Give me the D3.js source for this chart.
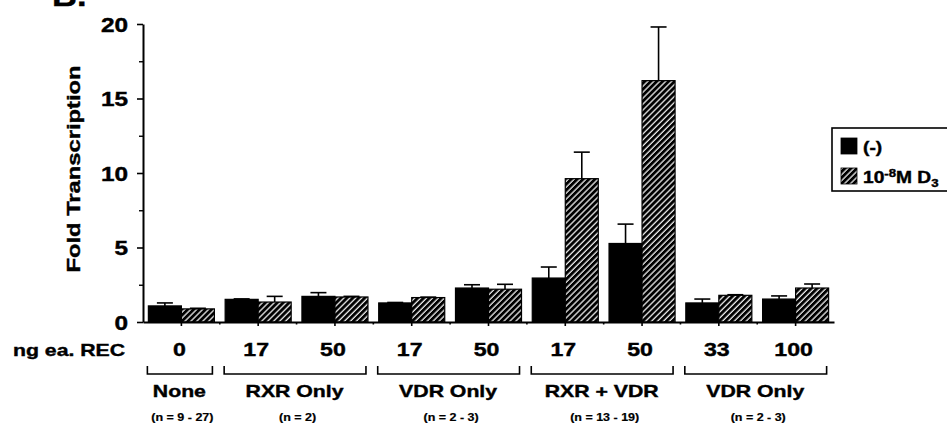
<!DOCTYPE html>
<html>
<head>
<meta charset="utf-8">
<script src="https://cdn.jsdelivr.net/npm/d3@7"></script>
<style>
  body { margin: 0; background: #fff; }
  svg { display: block; }
  text { font-family: "Liberation Sans", Arial, Helvetica, sans-serif; font-weight: bold; fill: #000; stroke: #000; stroke-width: 0.4px; }
</style>
</head>
<body>
<script>
// doses (ng of each receptor) for each bar pair
var categories = ["0", "17", "50", "17", "50", "17", "50", "33", "100"];
var series = ["(-)", "10-8M D3"];

// fold transcription, vehicle (-) and 10^-8 M D3
var vehicleValues = [1.08, 1.52, 1.72, 1.28, 2.28, 2.95, 5.27, 1.28, 1.54];
var vehicleErrors = [0.2, 0.03, 0.25, 0.03, 0.22, 0.74, 1.3, 0.26, 0.21];
var d3Values = [0.88, 1.34, 1.68, 1.64, 2.2, 9.62, 16.2, 1.79, 2.28];
var d3Errors = [0.04, 0.38, 0.04, 0.03, 0.33, 1.78, 3.6, 0.04, 0.27];

// receptor groups under the doses
var groupNames = ["None", "RXR Only", "VDR Only", "RXR + VDR", "VDR Only"];
var groupCounts = ["(n = 9 - 27)", "(n = 2)", "(n = 2 - 3)", "(n = 13 - 19)", "(n = 2 - 3)"];
var groupFirst = [0, 1, 3, 5, 7];
var groupLast = [0, 2, 4, 6, 8];

var yTicks = [0, 5, 10, 15, 20];
var yMinorTicks = [2.5, 7.5, 12.5, 17.5];

var W = 947, H = 424;
var stretch = 1.25; // the printed font is wider than Arial

var svg = d3.select("body").append("svg")
  .attr("width", W)
  .attr("height", H);

var defs = svg.append("defs");
var hatch = defs.append("pattern")
  .attr("id", "hatch")
  .attr("patternUnits", "userSpaceOnUse")
  .attr("width", 4.2)
  .attr("height", 4.2)
  .attr("patternTransform", "rotate(45)");
hatch.append("rect").attr("width", 4.2).attr("height", 4.2).attr("fill", "#000");
hatch.append("line")
  .attr("x1", 1).attr("y1", 0).attr("x2", 1).attr("y2", 4.2)
  .attr("stroke", "#fff").attr("stroke-width", 1.2);

var x = d3.scaleBand()
  .domain(d3.range(categories.length))
  .range([143, 834])
  .paddingInner(0.14)
  .paddingOuter(0.07);

var xInner = d3.scaleBand()
  .domain(series)
  .range([0, x.bandwidth()]);

var y = d3.scaleLinear()
  .domain([0, 20])
  .range([322, 24]);

var fills = ["#000", "url(#hatch)"];

// bars
var rows = categories.map(function(c, i) {
  return [
    { i: i, s: series[0], v: vehicleValues[i], e: vehicleErrors[i] },
    { i: i, s: series[1], v: d3Values[i], e: d3Errors[i] }
  ];
});

var pair = svg.append("g").selectAll("g")
  .data(rows)
  .enter()
  .append("g")
  .attr("transform", function(d, i) { return "translate(" + x(i) + ",0)"; });

pair.selectAll("rect")
  .data(function(d) { return d; })
  .enter()
  .append("rect")
  .attr("x", function(d) { return xInner(d.s); })
  .attr("y", function(d) { return y(d.v); })
  .attr("width", xInner.bandwidth())
  .attr("height", function(d) { return y(0) - y(d.v); })
  .attr("fill", function(d, j) { return fills[j]; })
  .attr("stroke", "#000")
  .attr("stroke-width", 1.2);

// error bars (upper only)
var err = pair.selectAll("g.err")
  .data(function(d) { return d; })
  .enter()
  .append("g")
  .attr("class", "err");

err.append("line")
  .attr("x1", function(d) { return xInner(d.s) + xInner.bandwidth() / 2; })
  .attr("x2", function(d) { return xInner(d.s) + xInner.bandwidth() / 2; })
  .attr("y1", function(d) { return y(d.v); })
  .attr("y2", function(d) { return y(d.v + d.e); })
  .attr("stroke", "#000")
  .attr("stroke-width", 1.6);

err.append("line")
  .attr("x1", function(d) { return xInner(d.s) + xInner.bandwidth() / 2 - 8; })
  .attr("x2", function(d) { return xInner(d.s) + xInner.bandwidth() / 2 + 8; })
  .attr("y1", function(d) { return y(d.v + d.e); })
  .attr("y2", function(d) { return y(d.v + d.e); })
  .attr("stroke", "#000")
  .attr("stroke-width", 1.6);

// y axis
var yAxis = svg.append("g")
  .attr("transform", "translate(143,0)")
  .call(d3.axisLeft(y).tickValues(yTicks).tickSize(6).tickSizeOuter(0));
yAxis.select(".domain").attr("stroke-width", 2);
yAxis.selectAll(".tick line").attr("stroke-width", 1.6);
yAxis.selectAll(".tick text")
  .attr("x", null)
  .attr("dy", null)
  .attr("y", 7)
  .attr("font-size", 19.5)
  .attr("font-family", null)
  .attr("transform", "translate(-15,0) scale(" + stretch + ",1)");

var yMinor = svg.append("g")
  .attr("transform", "translate(143,0)")
  .call(d3.axisLeft(y).tickValues(yMinorTicks).tickSize(4).tickFormat(""));
yMinor.select(".domain").remove();
yMinor.selectAll(".tick line").attr("stroke-width", 1.4);

// x axis
var xAxis = svg.append("g")
  .attr("transform", "translate(0," + y(0) + ")")
  .call(d3.axisBottom(x).tickSize(4).tickSizeOuter(0).tickFormat(""));
xAxis.select(".domain").attr("stroke-width", 2);
xAxis.selectAll(".tick line").attr("stroke-width", 1.6);

var gap = x.step() - x.bandwidth();
svg.append("g").selectAll("line")
  .data(categories.slice(0, -1))
  .enter()
  .append("line")
  .attr("x1", function(d, i) { return x(i) + x.bandwidth() + gap / 2; })
  .attr("x2", function(d, i) { return x(i) + x.bandwidth() + gap / 2; })
  .attr("y1", y(0))
  .attr("y2", y(0) + 2.5)
  .attr("stroke", "#000")
  .attr("stroke-width", 1.6);

// dose labels
svg.append("g").selectAll("text")
  .data(categories)
  .enter()
  .append("text")
  .attr("transform", function(d, i) {
    return "translate(" + (x(i) + x.bandwidth() / 2 - 2) + ",356) scale(" + stretch + ",1)";
  })
  .attr("text-anchor", "middle")
  .attr("font-size", 18.5)
  .text(function(d) { return d; });

svg.append("text")
  .attr("transform", "translate(13,356) scale(" + stretch + ",1)")
  .attr("font-size", 17)
  .text("ng ea. REC");

// brackets
svg.append("g").selectAll("path")
  .data(groupNames)
  .enter()
  .append("path")
  .attr("d", function(d, i) {
    var x1 = x(groupFirst[i]) - 1;
    var x2 = x(groupLast[i]) + x.bandwidth() - 2;
    return "M" + x1 + ",366V374H" + x2 + "V366";
  })
  .attr("fill", "none")
  .attr("stroke", "#000")
  .attr("stroke-width", 1.6);

svg.append("g").selectAll("text")
  .data(groupNames)
  .enter()
  .append("text")
  .attr("transform", function(d, i) {
    var cx = (x(groupFirst[i]) + x(groupLast[i]) + x.bandwidth()) / 2 - 2;
    return "translate(" + cx + ",397) scale(" + stretch + ",1)";
  })
  .attr("text-anchor", "middle")
  .attr("font-size", 17)
  .text(function(d) { return d; });

svg.append("g").selectAll("text")
  .data(groupCounts)
  .enter()
  .append("text")
  .attr("transform", function(d, i) {
    var cx = (x(groupFirst[i]) + x(groupLast[i]) + x.bandwidth()) / 2 + 1;
    return "translate(" + cx + ",421) scale(" + stretch + ",1)";
  })
  .attr("text-anchor", "middle")
  .attr("font-size", 10)
  .style("stroke-width", "0.2px")
  .text(function(d) { return d; });

// y title
svg.append("text")
  .attr("transform", "translate(80,169) rotate(-90) scale(" + stretch + ",1)")
  .attr("text-anchor", "middle")
  .attr("font-size", 19)
  .text("Fold Transcription");

// panel letter
svg.append("text")
  .attr("transform", "translate(52,6) scale(1.15,1)")
  .attr("font-size", 30)
  .text("B.");

// legend
var legend = svg.append("g").attr("transform", "translate(832,128)");
legend.append("rect")
  .attr("width", 130)
  .attr("height", 63)
  .attr("fill", "#fff")
  .attr("stroke", "#000")
  .attr("stroke-width", 1.6);

var item = legend.selectAll("g.item")
  .data(series)
  .enter()
  .append("g")
  .attr("class", "item")
  .attr("transform", function(d, i) { return "translate(9," + (10 + i * 30) + ")"; });

item.append("rect")
  .attr("width", 16)
  .attr("height", 16)
  .attr("fill", function(d, i) { return fills[i]; })
  .attr("stroke", "#000")
  .attr("stroke-width", 0.8);

item.append("text")
  .attr("transform", "translate(22,15) scale(1.2,1)")
  .attr("font-size", 16)
  .each(function(d, i) {
    var t = d3.select(this);
    if (i === 0) {
      t.text(d);
    } else {
      t.append("tspan").text("10");
      t.append("tspan").attr("font-size", 11).attr("dy", -6).text("-8");
      t.append("tspan").attr("dy", 6).text("M D");
      t.append("tspan").attr("font-size", 11).attr("dy", 4).text("3");
    }
  });
</script>
</body>
</html>
